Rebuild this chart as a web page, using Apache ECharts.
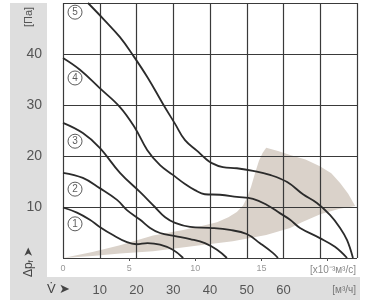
<!DOCTYPE html>
<html><head><meta charset="utf-8">
<script src="https://cdn.jsdelivr.net/npm/echarts@6/dist/echarts.min.js"></script>
<style>html,body{margin:0;padding:0;background:#fff}#c{width:366px;height:308px}</style>
</head><body><div id="c"></div>
<script>
// X in m³/h, Y in Pa
const xTicksM3h = [10, 20, 30, 40, 50, 60];
const xTicksLs = [0, 5, 10, 15];
const yTicks = [10, 20, 30, 40];
const curve1 = [[0,9.9],[3.8,8.9],[7.3,7.5],[10,6.1],[13.6,4.5],[17.4,3.1],[20,2.7],[23,2.9],[26.4,2.6],[29.9,1.6],[32.7,0]];
const curve2 = [[0,16.7],[5.4,15.7],[10,13.7],[14.7,11.4],[17.4,9.4],[21,7.5],[23.7,5.9],[26.4,4.9],[30.5,4.3],[34.6,3.7],[38.6,2.9],[41.9,1.6],[44.6,0]];
const curve3 = [[0,26.5],[5.4,24.5],[10,21.6],[15.5,16.7],[21,12.9],[25,10],[27.8,8],[30.5,6.9],[34.6,6.1],[40,5.9],[45.4,5.5],[50,4.7],[53.6,2.9],[57.1,1],[58.5,0]];
const curve4 = [[0,39.2],[4.6,36.9],[10,33.3],[15.5,29.6],[19.6,25.5],[22.9,21.2],[26.4,18.2],[29.9,16.3],[33.2,14.5],[35.9,13.3],[38.6,12.5],[42.7,12.4],[47.3,12],[51.7,11.6],[55.5,10.4],[59,8.8],[61.8,7.5],[64.5,5.9],[69.9,3.9],[74,2.2],[77.3,0]];
const curve5 = [[6.8,50],[11.2,46.7],[15.5,43.3],[19,39.8],[23.1,35.3],[27.2,30.2],[30.5,26.3],[33.2,23.1],[36.5,21],[38.6,19.6],[40.5,18.6],[43.5,17.8],[47.3,17.6],[51.7,17.1],[56.3,16.3],[61,14.9],[65.3,12.5],[69.1,10.8],[72.7,8.4],[75.4,5.9],[77.3,3.5],[78.9,0]];
const workArea = [[0,0],[8,1.2],[15.5,2.5],[24.5,4.4],[32.7,5.5],[38,6.3],[41.9,7],[45,8],[47.3,9],[49,10.3],[50.2,12],[51.2,14],[52.2,16.5],[53.3,19],[54.3,20.6],[55.3,21.6],
  [58.5,21],[61.8,20.2],[66,19.3],[69.9,18],[73,16.6],[75.4,14.7],[77.6,12.6],[79.5,10.2],
  [75,9.6],[70,8.6],[65,7],[61.8,5.9],[55.3,4.5],[46.2,3.3],[37.3,2.5],[24.5,1.3],[15.5,0.9],[8,0.4],[0,0]];
const curveLabels = [[3.27,6.7,'1'],[3.27,13.5,'2'],[3.27,22.9,'3'],[3.27,35.3,'4'],[3.27,48.2,'5']];

const FF = '"Liberation Sans", Arial, sans-serif';
const chart = echarts.init(document.getElementById('c'));
const gridLine = {show:true, lineStyle:{color:'#3a3a3a', width:1.2}};
const curveSeries = [curve1,curve2,curve3,curve4,curve5].map((d,i)=>({
  type:'line', name:'c'+(i+1), data:d, smooth:0.4, symbol:'none', z:3,
  lineStyle:{color:'#2b2b2b', width:1.8}
}));
chart.setOption({
  animation:false,
  backgroundColor:'#fff',
  grid:{left:63, top:3, right:9, bottom:50},
  xAxis:[{
    type:'value', min:0, max:80, interval:10, z:2,
    axisLine:{show:false}, axisTick:{show:false},
    splitLine:gridLine,
    axisLabel:{margin:26, fontSize:13, color:'#555', fontFamily:FF,
      formatter:v=> xTicksM3h.indexOf(v)>=0 ? String(v) : ''}
  },{
    type:'value', min:0, max:80/3.6, position:'bottom', z:2,
    axisLine:{show:false}, splitLine:{show:false},
    axisTick:{show:true, length:3, customValues:[5,10,15,20], lineStyle:{color:'#555'}},
    axisLabel:{margin:6, fontSize:9, color:'#999', fontFamily:FF, customValues:xTicksLs,
      formatter:v=>String(v)}
  }],
  yAxis:{
    type:'value', min:0, max:50, interval:10, z:2,
    axisLine:{show:false}, axisTick:{show:false},
    splitLine:gridLine,
    axisLabel:{margin:21, fontSize:14, color:'#555', fontFamily:FF,
      formatter:v=> yTicks.indexOf(v)>=0 ? String(v) : ''}
  },
  graphic:[
    {type:'rect', z:-10, shape:{x:10,y:3,width:37,height:297}, style:{fill:'#dedede'}},
    {type:'rect', z:-10, shape:{x:10,y:277,width:350,height:23}, style:{fill:'#dedede'}},
    {type:'text', x:29, y:17, rotation:Math.PI/2, style:{text:'[Па]', font:'11px '+FF, fill:'#555', align:'center', verticalAlign:'middle'}},
    {type:'text', x:29, y:262, rotation:Math.PI/2, style:{text:'Δp{s|f} ➤', font:'12px '+FF, fill:'#444', align:'center', verticalAlign:'middle', rich:{s:{fontSize:8, fill:'#444', verticalAlign:'bottom'}}}},
    {type:'text', x:47, y:289, style:{text:'V\u0307 ➤', font:'13px '+FF, fill:'#444', align:'left', verticalAlign:'middle'}},
    {type:'text', x:356, y:270, style:{text:'[x10⁻³м³/с]', font:'10px '+FF, fill:'#888', align:'right', verticalAlign:'middle'}},
    {type:'text', x:356, y:290, style:{text:'[м³/ч]', font:'10px '+FF, fill:'#777', align:'right', verticalAlign:'middle'}}
  ],
  series:[{
    type:'custom', z:1, silent:true, data:[0],
    renderItem:(params, api)=>({
      type:'polygon', shape:{points:workArea.map(p=>api.coord(p))},
      style:{fill:'#dad2ca'}
    })
  }].concat(curveSeries).concat([{
    type:'scatter', z:4, data:curveLabels, symbol:'circle', symbolSize:14,
    itemStyle:{color:'#fff', borderColor:'#333', borderWidth:1},
    label:{show:true, position:'inside', formatter:p=>p.value[2], fontSize:10, color:'#333', fontFamily:FF}
  }])
});
</script></body></html>
